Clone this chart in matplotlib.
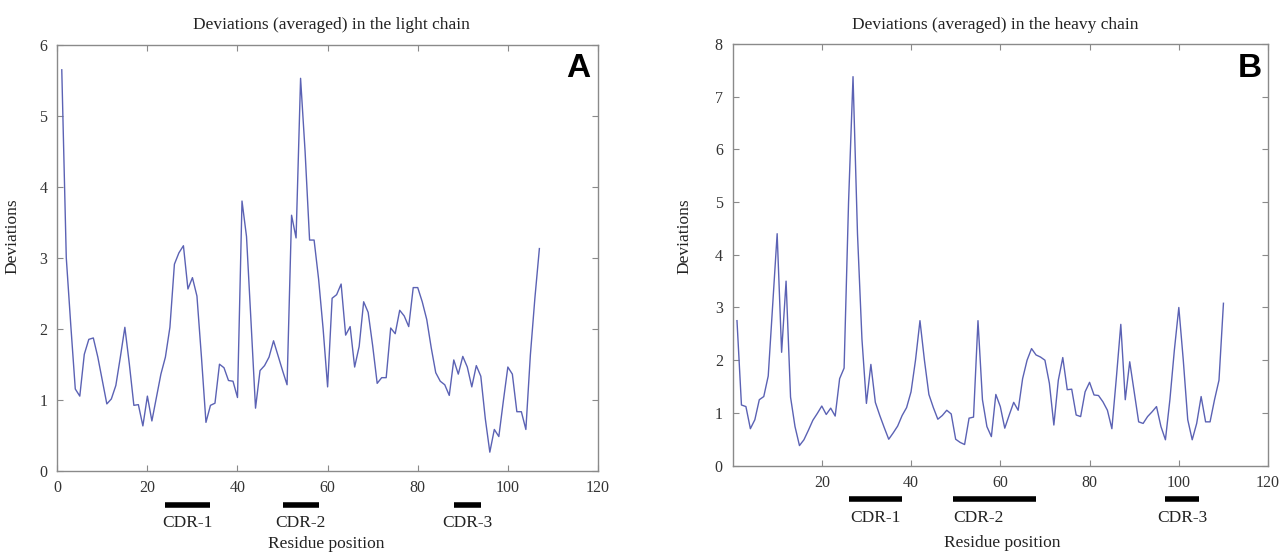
import matplotlib
matplotlib.use("Agg")
import matplotlib.pyplot as plt
import matplotlib.transforms as mtransforms

plt.rcParams['font.family'] = ['Liberation Serif', 'DejaVu Serif']

# light chain deviations, residues 1..107
light = [5.65, 3.0, 2.05, 1.15, 1.05, 1.64, 1.85, 1.87, 1.6, 1.27,
         0.94, 1.01, 1.2, 1.6, 2.02, 1.5, 0.92, 0.93, 0.63, 1.05,
         0.7, 1.03, 1.36, 1.6, 2.02, 2.91, 3.07, 3.17, 2.56, 2.72,
         2.46, 1.6, 0.68, 0.92, 0.95, 1.5, 1.45, 1.27, 1.26, 1.03,
         3.8, 3.3, 2.1, 0.88, 1.41, 1.48, 1.6, 1.83, 1.62, 1.41,
         1.21, 3.6, 3.28, 5.53, 4.5, 3.25, 3.25, 2.7, 2.0, 1.18,
         2.43, 2.48, 2.63, 1.91, 2.03, 1.46, 1.75, 2.38, 2.23, 1.76,
         1.23, 1.31, 1.31, 2.01, 1.93, 2.26, 2.18, 2.03, 2.58, 2.58,
         2.38, 2.13, 1.73, 1.38, 1.26, 1.21, 1.06, 1.56, 1.36, 1.61,
         1.46, 1.18, 1.48, 1.33, 0.73, 0.26, 0.58, 0.48, 0.98, 1.46,
         1.36, 0.83, 0.83, 0.58, 1.63, 2.43, 3.13]

# heavy chain deviations, residues 1..110
heavy = [2.75, 1.15, 1.12, 0.7, 0.87, 1.25, 1.31, 1.7, 3.05, 4.4,
         2.15, 3.5, 1.3, 0.74, 0.38, 0.49, 0.67, 0.86, 0.99, 1.13,
         0.97, 1.09, 0.94, 1.65, 1.85, 5.0, 7.38, 4.4, 2.4, 1.18,
         1.92, 1.2, 0.95, 0.72, 0.5, 0.62, 0.75, 0.95, 1.1, 1.4,
         2.0, 2.75, 2.0, 1.35, 1.1, 0.88, 0.95, 1.05, 0.98, 0.5,
         0.44, 0.4, 0.9, 0.92, 2.75, 1.25, 0.74, 0.55, 1.35, 1.12,
         0.71, 0.96, 1.2, 1.05, 1.65, 2.0, 2.22, 2.1, 2.06, 2.0,
         1.56, 0.77, 1.62, 2.05, 1.44, 1.45, 0.96, 0.93, 1.4, 1.58,
         1.34, 1.33, 1.21, 1.05, 0.7, 1.66, 2.68, 1.25, 1.97, 1.4,
         0.83, 0.8, 0.93, 1.02, 1.12, 0.74, 0.49, 1.25, 2.19, 3.0,
         2.0, 0.87, 0.49, 0.8, 1.31, 0.83, 0.83, 1.25, 1.62, 3.08]

cdr_names = ['CDR-1', 'CDR-2', 'CDR-3']
light_cdr = [(24, 34), (50, 58), (88, 94)]
heavy_cdr = [(26, 38), (49.5, 68), (97, 104.5)]

light_xticks = [0, 20, 40, 60, 80, 100, 120]
heavy_xticks = [20, 40, 60, 80, 100, 120]

line_col = '#5b62b4'
spine_col = '#8a8a8a'

fig = plt.figure(figsize=(12.84, 5.56), dpi=100)

panels = [
    dict(rect=[0.0446, 0.1536, 0.4211, 0.7655], y=light, ymax=6, xticks=light_xticks,
         cdr=light_cdr, ha=['center', 'center', 'center'],
         title='Deviations (averaged) in the light chain', tpos=(0.507, 1.047),
         letter='A', lpos=(0.985, 0.982), bar_y=-0.081, lab_y=-0.123,
         ylab=(-0.069, 0.55), xlab=(0.498, -0.172)),
    dict(rect=[0.5705, 0.1626, 0.4171, 0.7583], y=heavy, ymax=8, xticks=heavy_xticks,
         cdr=heavy_cdr, ha=['center', 'left', 'center'],
         title='Deviations (averaged) in the heavy chain', tpos=(0.491, 1.045),
         letter='B', lpos=(0.989, 0.979), bar_y=-0.079, lab_y=-0.124,
         ylab=(-0.074, 0.545), xlab=(0.503, -0.184)),
]

for p in panels:
    ax = fig.add_axes(p['rect'])
    x = list(range(1, len(p['y']) + 1))
    ax.plot(x, p['y'], color=line_col, lw=1.0)
    ax.set_xlim(0, 120)
    ax.set_ylim(0, p['ymax'])
    ax.set_xticks(p['xticks'])
    ax.set_yticks(range(0, p['ymax'] + 1))
    ax.tick_params(direction='in', top=True, right=True, length=4, width=0.8,
                   color=spine_col, labelsize=11.5, labelcolor='#333333', pad=7)
    for s in ax.spines.values():
        s.set_color(spine_col)
        s.set_linewidth(1.0)

    ax.text(p['tpos'][0], p['tpos'][1], p['title'], transform=ax.transAxes,
            ha='center', va='center', fontsize=12.5, color='#222222')
    ax.text(p['lpos'][0], p['lpos'][1], p['letter'], transform=ax.transAxes,
            ha='right', va='top', fontsize=24, fontweight='bold',
            family='Liberation Sans', color='black')

    ax.set_ylabel('Deviations', fontsize=12.5, color='#222222')
    ax.yaxis.set_label_coords(*p['ylab'])
    ax.set_xlabel('Residue position', fontsize=12.5, color='#222222', va='center')
    ax.xaxis.set_label_coords(*p['xlab'])

    trans = mtransforms.blended_transform_factory(ax.transData, ax.transAxes)
    for name, (a, b), ha in zip(cdr_names, p['cdr'], p['ha']):
        ax.plot([a, b], [p['bar_y'], p['bar_y']], color='black', lw=4,
                solid_capstyle='butt', transform=trans, clip_on=False)
        tx = (a + b) / 2 if ha == 'center' else a
        ax.text(tx, p['lab_y'], name, transform=trans, ha=ha, va='center',
                fontsize=12.5, color='#222222')

fig.savefig('out.png', dpi=100)
